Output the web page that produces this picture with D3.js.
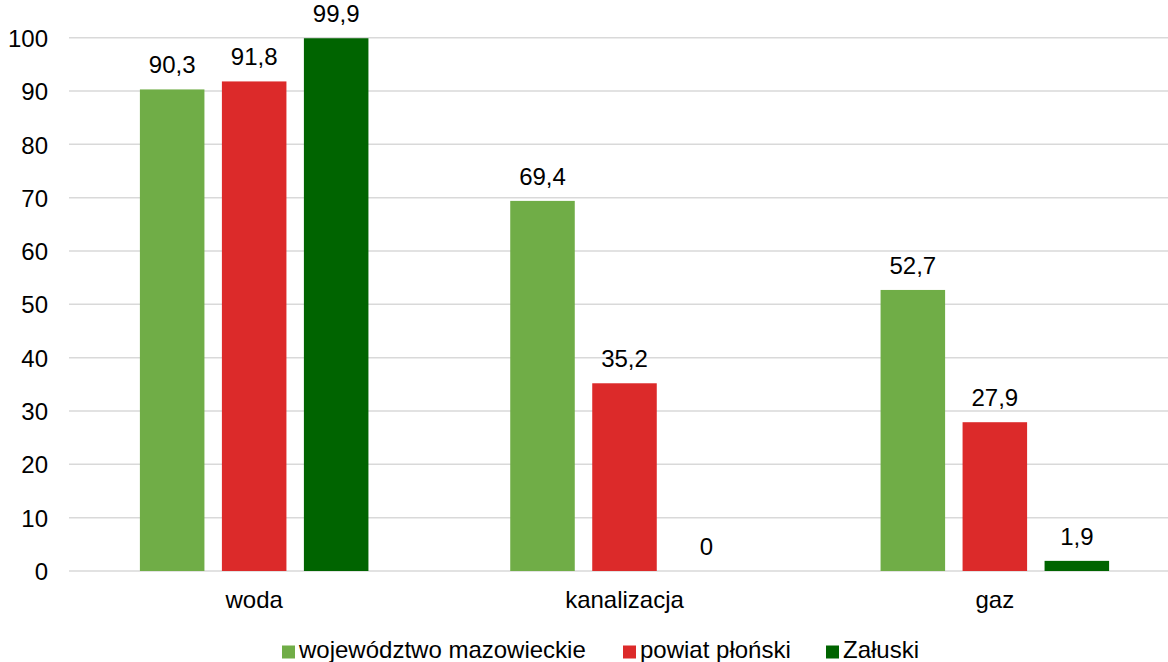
<!DOCTYPE html>
<html><head><meta charset="utf-8">
<script src="https://cdn.jsdelivr.net/npm/d3@7"></script>
<style>body{margin:0;background:#fff}svg{display:block;font-family:"Liberation Sans",Arial,sans-serif}</style>
</head><body><svg id="c" width="1168" height="662"></svg>
<script>
const categories = ["woda","kanalizacja","gaz"];
const seriesNames = ["województwo mazowieckie","powiat płoński","Załuski"];
const seriesColors = ["#70AD47","#DC2A2A","#006400"];
const wojewodztwo = [90.3,69.4,52.7];
const powiat = [91.8,35.2,27.9];
const zaluski = [99.9,0,1.9];
const yTicks = [0,10,20,30,40,50,60,70,80,90,100];

(function(){
const series = [wojewodztwo, powiat, zaluski];
const svg = d3.select("#c");
const FS = 24;
const pLeft = 69, pRight = 1180, pTop = 37.7, pBottom = 571;
const x0 = d3.scaleBand().domain(categories).range([pLeft,pRight]).paddingInner(0).paddingOuter(0);
const x1 = d3.scaleBand().domain(d3.range(3)).range([70.9, x0.bandwidth()-70.9]).paddingInner(0.213).paddingOuter(0);
const y = d3.scaleLinear().domain([0,100]).range([pBottom,pTop]);

svg.append("g").selectAll("line").data(yTicks).join("line")
  .attr("x1",pLeft).attr("x2",1168).attr("y1",d=>y(d)).attr("y2",d=>y(d))
  .attr("stroke","#D9D9D9").attr("stroke-width",1.5);

const yAxis = d3.axisLeft(y).tickValues(yTicks).tickSize(0).tickPadding(0).tickFormat(d3.format("d"));
const ya = svg.append("g").attr("transform","translate(48,0)").call(yAxis);
ya.select(".domain").remove();
ya.selectAll("text").attr("font-size",FS).attr("fill","#000").attr("dy","0.36em").attr("font-family","Liberation Sans, Arial, sans-serif");

categories.forEach((c,ci)=>{
  const g = svg.append("g").attr("transform",`translate(${x0(c)},0)`);
  series.forEach((s,si)=>{
    const v = s[ci];
    g.append("rect").attr("x",x1(si)).attr("width",x1.bandwidth())
      .attr("y",y(v)).attr("height",y(0)-y(v)).attr("fill",seriesColors[si]);
    g.append("text").attr("x",x1(si)+x1.bandwidth()/2).attr("y",y(v)-16)
      .attr("text-anchor","middle").attr("font-size",FS).attr("fill","#000")
      .text(String(v).replace(".",","));
  });
});

const xAxis = d3.axisBottom(x0).tickSize(0).tickPadding(0);
const xa = svg.append("g").attr("transform",`translate(0,608)`).call(xAxis);
xa.select(".domain").remove();
xa.selectAll("text").attr("font-size",FS).attr("fill","#000").attr("dy",0).attr("font-family","Liberation Sans, Arial, sans-serif");

const legX = [282,623,826];
const lg = svg.append("g");
seriesNames.forEach((n,i)=>{
  lg.append("rect").attr("x",legX[i]).attr("y",645.5).attr("width",13).attr("height",13).attr("fill",seriesColors[i]);
  lg.append("text").attr("x",legX[i]+17).attr("y",658).attr("font-size",FS).attr("fill","#000").text(n);
});
})();
</script></body></html>
